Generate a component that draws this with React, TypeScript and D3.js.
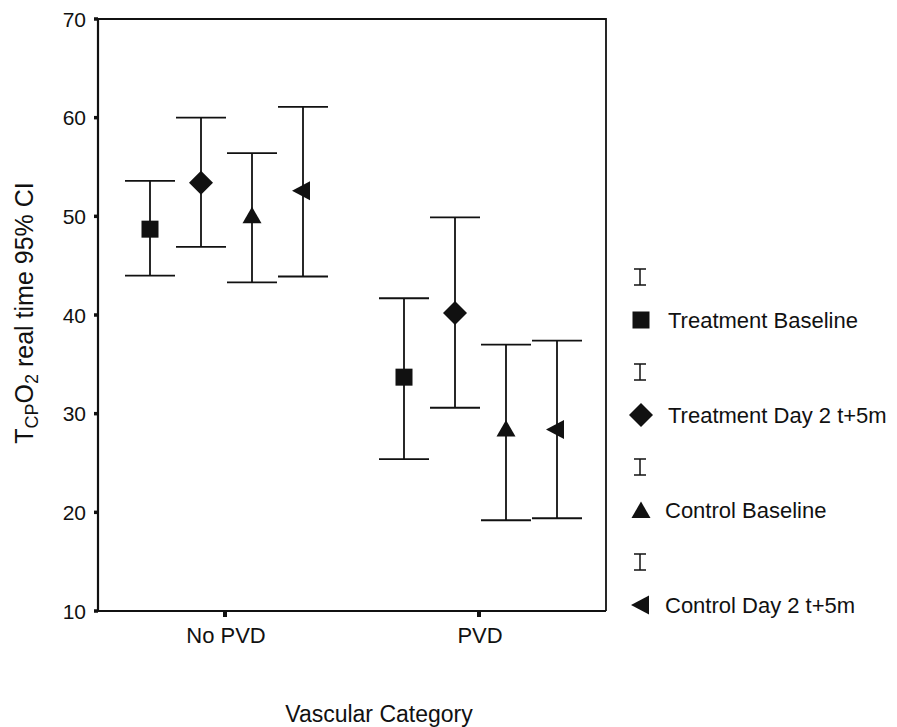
import React from "react";
import * as d3 from "d3";

const categories = ["No PVD", "PVD"];
const seriesNames = ["Treatment Baseline", "Treatment Day 2 t+5m", "Control Baseline", "Control Day 2 t+5m"];
const seriesShapes = ["square", "diamond", "triangle", "leftTriangle"];
const yTicks = [10, 20, 30, 40, 50, 60, 70];

const treatmentBaselineMean = [48.7, 33.7];
const treatmentBaselineLow = [44.0, 25.4];
const treatmentBaselineHigh = [53.6, 41.7];

const treatmentDay2Mean = [53.4, 40.2];
const treatmentDay2Low = [46.9, 30.6];
const treatmentDay2High = [60.0, 49.9];

const controlBaselineMean = [50.1, 28.5];
const controlBaselineLow = [43.3, 19.2];
const controlBaselineHigh = [56.4, 37.0];

const controlDay2Mean = [52.6, 28.4];
const controlDay2Low = [43.9, 19.4];
const controlDay2High = [61.1, 37.4];

const means = [treatmentBaselineMean, treatmentDay2Mean, controlBaselineMean, controlDay2Mean];
const lows = [treatmentBaselineLow, treatmentDay2Low, controlBaselineLow, controlDay2Low];
const highs = [treatmentBaselineHigh, treatmentDay2High, controlBaselineHigh, controlDay2High];

const FONT = "'Liberation Sans', Arial, Helvetica, sans-serif";
const INK = "#111";

function Marker({ shape, x, y }: { shape: string; x: number; y: number }) {
  if (shape === "square") {
    return <rect x={x - 8.5} y={y - 8.5} width={17} height={17} fill={INK} />;
  }
  if (shape === "diamond") {
    return <path d={`M${x},${y - 12}L${x + 12},${y}L${x},${y + 12}L${x - 12},${y}Z`} fill={INK} />;
  }
  if (shape === "triangle") {
    return <path d={`M${x},${y - 8.5}L${x + 9.5},${y + 8}L${x - 9.5},${y + 8}Z`} fill={INK} />;
  }
  return <path d={`M${x - 11},${y}L${x + 7},${y - 9.5}L${x + 7},${y + 9.5}Z`} fill={INK} />;
}

export default function App() {
  const width = 897;
  const height = 727;
  const left = 98;
  const right = 606;
  const top = 19;
  const bottom = 611;

  const x = d3.scalePoint<string>().domain(categories).range([left, right]).padding(0.5);
  const offset = d3.scaleLinear().domain([0, 3]).range([-75, 78]);
  const y = d3.scaleLinear().domain([10, 70]).range([bottom, top]);
  const capHalf = 25;

  const legendY = d3.scaleLinear().domain([0, 3]).range([277, 562]);

  return (
    <svg width={width} height={height} style={{ position: "absolute", left: 0, top: 0, background: "#fff" }} fontFamily={FONT}>
      <rect x={0} y={0} width={width} height={height} fill="#fff" />
      {/* frame */}
      <path d={`M${left},${top}H${right}V${bottom}`} fill="none" stroke={INK} strokeWidth={1.8} />
      <line x1={left} y1={top} x2={left} y2={bottom} stroke={INK} strokeWidth={2.2} />
      <line x1={left} y1={bottom} x2={right} y2={bottom} stroke={INK} strokeWidth={2.2} />

      {/* y ticks */}
      {yTicks.map((t) => (
        <g key={t}>
          <line x1={left - 4} x2={left} y1={y(t)} y2={y(t)} stroke={INK} strokeWidth={3.5} />
          <text x={86} y={y(t) + 7.5} textAnchor="end" fontSize={21} fill={INK}>
            {t}
          </text>
        </g>
      ))}

      {/* x ticks */}
      {categories.map((c) => (
        <g key={c}>
          <line x1={x(c)!} x2={x(c)!} y1={bottom} y2={bottom + 6} stroke={INK} strokeWidth={4} />
          <text x={x(c)! + 1} y={643} textAnchor="middle" fontSize={22} fill={INK}>
            {c}
          </text>
        </g>
      ))}

      {/* error bars and markers */}
      {seriesNames.map((s, si) =>
        categories.map((c, ci) => {
          const cx = x(c)! + offset(si);
          return (
            <g key={s + c}>
              <line x1={cx} x2={cx} y1={y(highs[si][ci])} y2={y(lows[si][ci])} stroke={INK} strokeWidth={1.8} />
              <line x1={cx - capHalf} x2={cx + capHalf} y1={y(highs[si][ci])} y2={y(highs[si][ci])} stroke={INK} strokeWidth={1.8} />
              <line x1={cx - capHalf} x2={cx + capHalf} y1={y(lows[si][ci])} y2={y(lows[si][ci])} stroke={INK} strokeWidth={1.8} />
              <Marker shape={seriesShapes[si]} x={cx} y={y(means[si][ci])} />
            </g>
          );
        })
      )}

      {/* legend */}
      {seriesNames.map((s, si) => {
        const iy = legendY(si);
        const my = iy + 43;
        const lx = 640;
        return (
          <g key={s}>
            <line x1={lx} x2={lx} y1={iy - 8} y2={iy + 8} stroke={INK} strokeWidth={1.5} />
            <line x1={lx - 6} x2={lx + 6} y1={iy - 8} y2={iy - 8} stroke={INK} strokeWidth={1.5} />
            <line x1={lx - 6} x2={lx + 6} y1={iy + 8} y2={iy + 8} stroke={INK} strokeWidth={1.5} />
            <Marker shape={seriesShapes[si]} x={si === 3 ? lx + 2 : lx + 1} y={my} />
            <text x={si < 2 ? 668 : 665} y={my + 7.5} fontSize={22} fill={INK}>
              {s}
            </text>
          </g>
        );
      })}

      {/* axis titles */}
      <text x={379} y={722} textAnchor="middle" fontSize={23} fill={INK}>
        Vascular Category
      </text>
      <text transform="translate(33,313) rotate(-90)" textAnchor="middle" fontSize={25} fill={INK}>
        <tspan>T</tspan>
        <tspan fontSize={18} dy={5}>CP</tspan>
        <tspan dy={-5}>O</tspan>
        <tspan fontSize={18} dy={5}>2</tspan>
        <tspan dy={-5}> real time 95% CI</tspan>
      </text>
    </svg>
  );
}
